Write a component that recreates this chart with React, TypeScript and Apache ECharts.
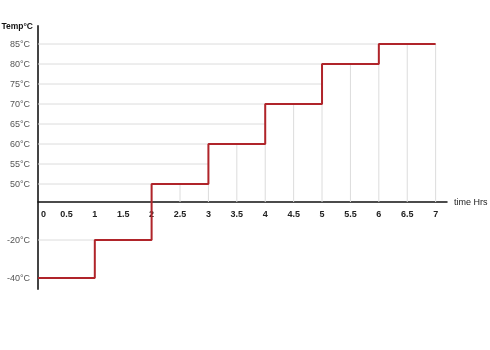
import React, { useEffect, useRef } from "react";
import * as echarts from "echarts";

// Step profile: temperature held from each time until the next
const stepTimes = [0, 1, 2, 3, 4, 5, 6, 7];
const stepTemps = [-40, -20, 50, 60, 70, 80, 85, 85];

// Axis ticks
const yTickTemps = [85, 80, 75, 70, 65, 60, 55, 50, -20, -40];
const xTicks = [0, 0.5, 1, 1.5, 2, 2.5, 3, 3.5, 4, 4.5, 5, 5.5, 6, 6.5, 7];

// Piecewise (broken) temperature scale used by the original chart
const scaleTemps = [-40, 0, 50, 85];
const scalePos = [-76, 0, 18, 158];
const Y_MIN = -87;
const Y_MAX = 176;

function toV(t: number): number {
  for (let i = 0; i < scaleTemps.length - 1; i++) {
    const a = scaleTemps[i], b = scaleTemps[i + 1];
    if (t <= b || i === scaleTemps.length - 2) {
      const r = (t - a) / (b - a);
      return scalePos[i] + r * (scalePos[i + 1] - scalePos[i]);
    }
  }
  return 0;
}

function tempAt(x: number): number {
  let idx = 0;
  for (let i = 0; i < stepTimes.length; i++) if (stepTimes[i] <= x) idx = i;
  return stepTemps[idx];
}

const FONT = "'Liberation Sans', Arial, sans-serif";
const GRID_TOP = 26;
const GRID_BOTTOM = 61;
const PLOT_H = 350 - GRID_TOP - GRID_BOTTOM;

export default function App() {
  const ref = useRef<HTMLDivElement>(null);
  useEffect(() => {
    if (!ref.current) return;
    const chart = echarts.init(ref.current, undefined, { renderer: "svg" });

    const hLines = yTickTemps
      .map((h) => {
        const i = stepTemps.findIndex((t) => t >= h);
        const xEnd = i >= 0 ? stepTimes[i] : 0;
        return [0, toV(h), xEnd, toV(h)];
      })
      .filter((l) => l[2] > 0);
    const vLines = xTicks
      .filter((x) => tempAt(x) > 0)
      .map((x) => [x, 0, x, toV(tempAt(x))]);
    const gridSegs = [...hLines, ...vLines];

    // move the x axis (line + labels) up to the zero level of the y scale
    const zeroOffset = -((0 - Y_MIN) / (Y_MAX - Y_MIN)) * PLOT_H;

    chart.setOption({
      animation: false,
      grid: { left: 38, right: 43, top: GRID_TOP, bottom: GRID_BOTTOM, containLabel: false, outerBoundsMode: "none" },
      xAxis: {
        type: "value",
        min: 0,
        max: 7.2,
        offset: zeroOffset,
        name: "time Hrs",
        nameLocation: "end",
        nameGap: 7,
        nameTextStyle: { fontSize: 9, color: "#222", fontFamily: FONT },
        axisLine: { onZero: false, lineStyle: { color: "#111", width: 1.5 } },
        axisTick: { show: false },
        splitLine: { show: false },
        axisLabel: {
          customValues: xTicks,
          margin: 7,
          fontSize: 9,
          fontWeight: "bold",
          color: "#222",
          fontFamily: FONT,
          formatter: (v: number) => (v === 0 ? "{z|0}" : String(v)),
          rich: {
            z: { padding: [0, 0, 0, 11], fontSize: 9, fontWeight: "bold", color: "#222", fontFamily: FONT },
          },
        },
      },
      yAxis: {
        type: "value",
        min: Y_MIN,
        max: Y_MAX,
        name: "Temp°C",
        nameLocation: "end",
        nameGap: 0,
        nameTextStyle: {
          fontSize: 8.5,
          fontWeight: "bold",
          color: "#111",
          fontFamily: FONT,
          align: "right",
          verticalAlign: "middle",
          padding: [0, 5, 0, 0],
        },
        axisLine: { show: true, lineStyle: { color: "#444", width: 2 } },
        axisTick: { show: false },
        splitLine: { show: false },
        axisLabel: {
          customValues: yTickTemps.map(toV),
          margin: 8,
          fontSize: 9,
          color: "#555",
          fontFamily: FONT,
          formatter: (v: number) => {
            const t = yTickTemps.find((tt) => Math.abs(toV(tt) - v) < 0.01);
            return t === undefined ? "" : `${t}°C`;
          },
        },
      },
      series: [
        {
          type: "custom",
          silent: true,
          z: 1,
          data: gridSegs,
          renderItem: (params: any, api: any) => {
            const p1 = api.coord([api.value(0), api.value(1)]);
            const p2 = api.coord([api.value(2), api.value(3)]);
            return {
              type: "line",
              shape: { x1: p1[0], y1: p1[1], x2: p2[0], y2: p2[1] },
              style: { stroke: "#dcdcdc", lineWidth: 1 },
            };
          },
        },
        {
          type: "line",
          step: "end",
          z: 3,
          showSymbol: false,
          silent: true,
          lineStyle: { color: "#b0242a", width: 2 },
          data: stepTimes.map((t, i) => [t, toV(stepTemps[i])]),
        },
      ],
    });
    return () => chart.dispose();
  }, []);
  return <div ref={ref} style={{ position: "fixed", left: 0, top: 0, width: 490, height: 350 }} />;
}
